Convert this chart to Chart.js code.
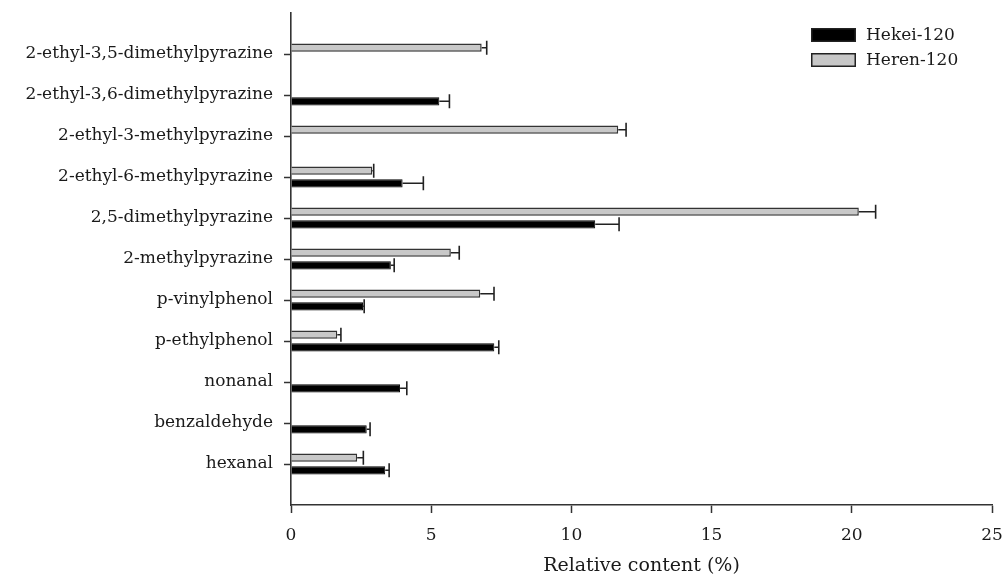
<!DOCTYPE html>
<html>
<head>
<meta charset="utf-8">
<script src="https://cdn.jsdelivr.net/npm/chart.js@4/dist/chart.umd.min.js"></script>
<style>
html,body{margin:0;padding:0;background:#fff;}
#wrap{width:1008px;height:578px;position:relative;}
</style>
</head>
<body>
<div id="wrap"><canvas id="c" width="1008" height="578"></canvas></div>
<script>
// ---- data (top to bottom) ----
const categories = [
  "2-ethyl-3,5-dimethylpyrazine",
  "2-ethyl-3,6-dimethylpyrazine",
  "2-ethyl-3-methylpyrazine",
  "2-ethyl-6-methylpyrazine",
  "2,5-dimethylpyrazine",
  "2-methylpyrazine",
  "p-vinylphenol",
  "p-ethylphenol",
  "nonanal",
  "benzaldehyde",
  "hexanal"
];
const seriesNames = ["Hekei-120", "Heren-120"];
const hekeiValues = [null, 5.29, null, 3.98, 10.85, 3.56, 2.57, 7.25, 3.89, 2.70, 3.36];
const hekeiErrors = [null, 0.36, null, 0.74, 0.85, 0.12, 0.04, 0.16, 0.24, 0.12, 0.14];
const herenValues = [6.80, null, 11.67, 2.90, 20.25, 5.70, 6.75, 1.65, null, null, 2.36];
const herenErrors = [0.18, null, 0.28, 0.05, 0.60, 0.30, 0.49, 0.13, null, null, 0.22];
const xTicks = [0, 5, 10, 15, 20, 25];
const xTitle = "Relative content (%)";

const FONT = "'DejaVu Serif', 'Liberation Serif', serif";
const toPts = (vals) => vals.map((v, i) => ({x: v, y: i}));

const errorBars = {
  id: 'errorBars',
  afterDatasetsDraw(chart) {
    const ctx = chart.ctx;
    const xs = chart.scales.x;
    chart.data.datasets.forEach((ds, di) => {
      const meta = chart.getDatasetMeta(di);
      ds.errors.forEach((e, i) => {
        const v = ds.data[i].x;
        if (v == null || e == null) return;
        const el = meta.data[i];
        const y = el.y;
        const x0 = xs.getPixelForValue(v);
        const x1 = xs.getPixelForValue(v + e);
        ctx.save();
        ctx.strokeStyle = '#222';
        ctx.lineWidth = 1.6;
        ctx.beginPath();
        ctx.moveTo(x0, y);
        ctx.lineTo(x1, y);
        ctx.moveTo(x1, y - 7);
        ctx.lineTo(x1, y + 7);
        ctx.stroke();
        ctx.restore();
      });
    });
  }
};

const customLegend = {
  id: 'customLegend',
  afterDraw(chart) {
    const ctx = chart.ctx;
    const items = [
      {label: seriesNames[0], fill: '#000000', y: 28},
      {label: seriesNames[1], fill: '#c8c8c8', y: 53}
    ];
    ctx.save();
    items.forEach(it => {
      ctx.fillStyle = it.fill;
      ctx.fillRect(811, it.y, 45, 14);
      ctx.strokeStyle = '#222';
      ctx.lineWidth = 1.5;
      ctx.strokeRect(811.75, it.y + 0.75, 43.5, 12.5);
      ctx.fillStyle = '#1a1a1a';
      ctx.font = "17px " + FONT;
      ctx.textBaseline = 'middle';
      ctx.textAlign = 'left';
      ctx.fillText(it.label, 866, it.y + 8);
    });
    ctx.restore();
  }
};

new Chart(document.getElementById('c'), {
  type: 'bar',
  data: {
    datasets: [
      {
        label: seriesNames[1],
        data: toPts(herenValues),
        errors: herenErrors,
        backgroundColor: '#c8c8c8',
        borderColor: '#333',
        borderWidth: 1.5
      },
      {
        label: seriesNames[0],
        data: toPts(hekeiValues),
        errors: hekeiErrors,
        backgroundColor: '#000000',
        borderColor: '#000000',
        borderWidth: 1
      }
    ]
  },
  options: {
    indexAxis: 'y',
    responsive: false,
    animation: false,
    events: [],
    categoryPercentage: 0.61,
    barPercentage: 0.66,
    layout: {padding: {top: 13, right: 16, left: 0, bottom: 0}},
    plugins: {legend: {display: false}, tooltip: {enabled: false}},
    scales: {
      y: {
        type: 'linear',
        reverse: true,
        min: -1,
        max: 11,
        offset: false,
        afterBuildTicks: (s) => { s.ticks = categories.map((_, i) => ({value: i})); },
        afterFit: (s) => { s.width = 291; s.paddingTop = 0; s.paddingBottom = 0; },
        ticks: {
          callback: (v) => categories[v],
          color: '#1a1a1a',
          font: {family: FONT, size: 17},
          padding: 11,
          autoSkip: false
        },
        grid: {offset: false, drawOnChartArea: false, drawTicks: true, tickLength: 7, tickColor: '#333', tickWidth: 1.5},
        border: {display: true, color: '#333', width: 1.6}
      },
      x: {
        type: 'linear',
        min: 0,
        max: 25,
        afterBuildTicks: (s) => { s.ticks = xTicks.map(v => ({value: v})); },
        afterFit: (s) => { s.height = 73; s.paddingLeft = 0; s.paddingRight = 0; },
        ticks: {
          color: '#1a1a1a',
          font: {family: FONT, size: 17},
          padding: 12,
          maxRotation: 0
        },
        grid: {drawOnChartArea: false, drawTicks: true, tickLength: 8, tickColor: '#333', tickWidth: 1.5},
        border: {display: true, color: '#333', width: 1.6},
        title: {
          display: true,
          text: xTitle,
          color: '#1a1a1a',
          font: {family: FONT, size: 19},
          padding: {top: 0, bottom: 1}
        }
      }
    }
  },
  plugins: [errorBars, customLegend]
});
</script>
</body>
</html>
